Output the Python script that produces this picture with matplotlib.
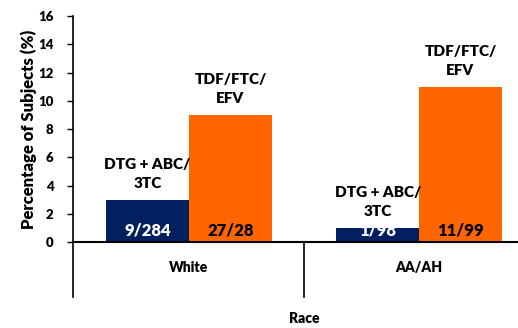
import numpy as np
import matplotlib.pyplot as plt

plt.rcParams['font.family'] = ['Lato', 'DejaVu Sans']
plt.rcParams['font.weight'] = 'heavy'

# data
races = ["White", "AA/AH"]
regimens = ["DTG + ABC/\n3TC", "TDF/FTC/\nEFV"]
dtg_pct = [3, 1]
tdf_pct = [9, 11]
dtg_counts = ["9/284", "1/98"]
tdf_counts = ["27/28", "11/99"]

navy = "#002060"
orange = "#FF6600"
bold = "heavy"

fig = plt.figure(figsize=(5.18, 3.28), dpi=100)
ax = fig.add_axes([0.141, 0.262, 0.859, 0.689])

x = np.arange(len(races))
w = 0.36
b1 = ax.bar(x - w / 2, dtg_pct, w, color=navy, zorder=2)
b2 = ax.bar(x + w / 2, tdf_pct, w, color=orange, zorder=2)

# regimen names over each bar, n/N inside near the base
for bars, name, counts, tc in [(b1, regimens[0], dtg_counts, "white"),
                               (b2, regimens[1], tdf_counts, "black")]:
    for r, c in zip(bars, counts):
        cx = r.get_x() + r.get_width() / 2
        ax.annotate(name, (cx, r.get_height()), xytext=(0, 7),
                    textcoords="offset points", ha="center", va="bottom",
                    fontsize=11, fontweight=bold, linespacing=1.55)
        ax.text(cx, 0.8, c, ha="center", va="center", color=tc,
                fontsize=12, fontweight=bold, zorder=3)

ax.set_xlim(-0.504, 1.43)
ax.set_ylim(0, 16)
ax.set_yticks(range(0, 17, 2))
ax.tick_params(axis="y", labelsize=9.5, width=1, length=4, direction="out",
               pad=10)
ax.tick_params(axis="x", bottom=False, labelbottom=False)
for lab in ax.get_yticklabels():
    lab.set_fontweight(bold)
ax.set_ylabel("Percentage of Subjects (%)", fontsize=12, fontweight=bold,
              labelpad=1)

for s in ["top", "right"]:
    ax.spines[s].set_visible(False)
ax.spines["left"].set_linewidth(1.2)
ax.spines["bottom"].set_linewidth(1.5)

# category table below the axis
for xv in [-0.504, 0.5]:
    ax.plot([xv, xv], [0, -3.9], color="black", lw=1.2, clip_on=False)
for xv, lab in zip(x, races):
    ax.text(xv, -1.8, lab, ha="center", va="center", fontsize=10,
            fontweight=bold)
ax.text(0.5, -5.4, "Race", ha="center", va="center", fontsize=10,
        fontweight=bold)

fig.savefig("out.png", dpi=100)
